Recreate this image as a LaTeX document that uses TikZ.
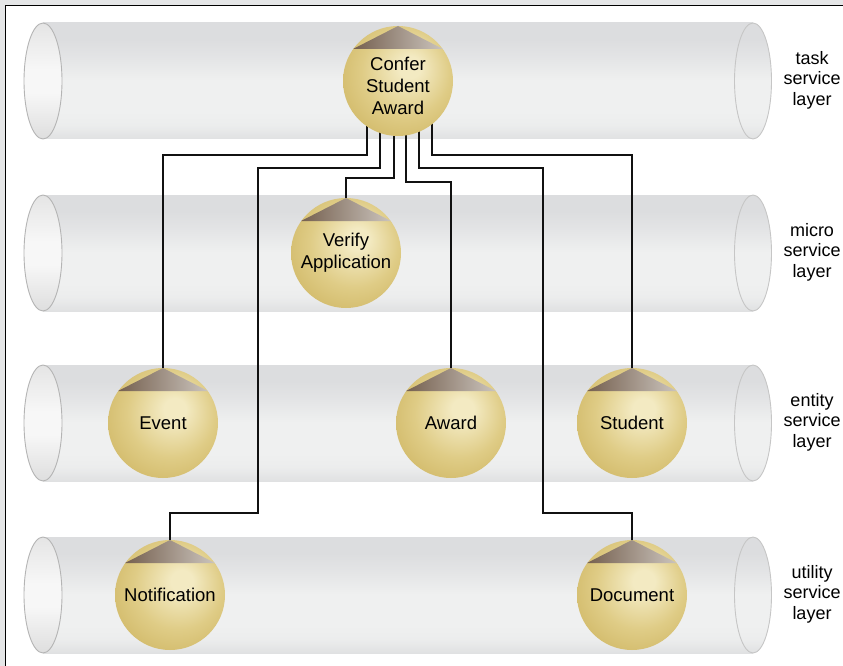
\documentclass[tikz,border=0pt]{standalone}
\usepackage{fontspec}
\setmainfont{Liberation Sans}
\usetikzlibrary{calc}
\definecolor{bgGray}{HTML}{E5E6E7}
\definecolor{cylTop}{HTML}{DCDDDF}
\definecolor{cylMid}{HTML}{EFF0F0}
\definecolor{cylBot}{HTML}{E0E1E2}
\definecolor{capA}{HTML}{DEDEDE}
\definecolor{capB}{HTML}{F7F7F7}
\definecolor{capLine}{HTML}{B4B4B4}
\definecolor{endLine}{HTML}{C6C6C6}
\definecolor{goldA}{HTML}{F3EAC2}
\definecolor{goldB}{HTML}{DFCC86}
\definecolor{goldC}{HTML}{D1B968}
\definecolor{triA}{HTML}{75604F}
\definecolor{triB}{HTML}{CBC4BD}
\definecolor{lineCol}{HTML}{111111}
\pgfdeclareverticalshading{cylshade}{100bp}{color(0bp)=(cylBot); color(25bp)=(cylBot); color(31bp)=(cylMid!80!cylBot); color(37bp)=(cylMid); color(50bp)=(cylMid); color(60bp)=(cylTop!60!cylMid); color(68bp)=(cylTop); color(100bp)=(cylTop)}
\pgfdeclareverticalshading{capshade}{100bp}{color(0bp)=(capA); color(25bp)=(capA); color(45bp)=(capB); color(55bp)=(capB); color(75bp)=(capA!80!white); color(100bp)=(capA!80!white)}
\pgfdeclareradialshading{goldball}{\pgfpoint{6bp}{7bp}}{color(0bp)=(goldA); color(5bp)=(goldA); color(20bp)=(goldB); color(32bp)=(goldC); color(50bp)=(goldC)}
\pgfdeclarelayer{bg}
\pgfdeclarelayer{cyl}
\pgfdeclarelayer{lines}
\pgfsetlayers{bg,cyl,lines,main}
\tikzset{
  sphere/.style={circle, minimum size=110pt, inner sep=0pt,
    path picture={
      \shade[shading=goldball] (path picture bounding box.south west) rectangle (path picture bounding box.north east);
      \shade[left color=triA, right color=triB]
        (path picture bounding box.north)
        -- ($(path picture bounding box.center)+(-45,-32)$)
        -- ($(path picture bounding box.center)+(45,-32)$) -- cycle;
    }},
  ballText/.style={font=\fontsize{18.5}{22}\selectfont, align=center, inner sep=0pt},
  layerText/.style={font=\fontsize{18}{20.5}\selectfont, align=center, inner sep=0pt},
  conn/.style={draw=lineCol, line width=1.3pt},
}
\newcommand{\servicelayer}[2]{%
  \shade[shading=cylshade] (43,#1-58) rectangle (753,#1+58);
  \shade[shading=cylshade] (753,#1) ellipse [x radius=18.5, y radius=58];
  \draw[endLine, line width=0.9pt] (753,#1) ellipse [x radius=18.5, y radius=58];
  \shade[shading=capshade] (43,#1) ellipse [x radius=19, y radius=58];
  \draw[capLine, line width=0.9pt] (43,#1) ellipse [x radius=19, y radius=58];
  \coordinate (#2) at (43,#1);
}
\begin{document}
\begin{tikzpicture}[x=1pt,y=-1pt]
\useasboundingbox (0,0) rectangle (843,666);
\clip (0,0) rectangle (843,666);
\begin{pgfonlayer}{bg}
\fill[bgGray] (0,0) rectangle (843,666);
\draw[fill=white, draw=black, line width=1.2pt] (5.5,5.5) rectangle (870,700);
\end{pgfonlayer}

\begin{pgfonlayer}{cyl}
\servicelayer{81}{taskL}
\servicelayer{253}{microL}
\servicelayer{423}{entityL}
\servicelayer{595}{utilityL}
\end{pgfonlayer}

% spheres
\node[sphere] (confer) at (398,81) {};
\node[sphere] (verify) at (346,253) {};
\node[sphere] (event) at (163,423) {};
\node[sphere] (award) at (451,423) {};
\node[sphere] (student) at (632,423) {};
\node[sphere] (notif) at (170,595) {};
\node[sphere] (document) at (632,595) {};

% texts
\node[ballText] (conferT) at ($(confer.center)+(0,5)$) {Confer\\Student\\Award};
\node[ballText] (verifyT) at (verify.center) {Verify\\Application};
\node[ballText] (eventT) at (event.center) {Event};
\node[ballText] (awardT) at (award.center) {Award};
\node[ballText] (studentT) at (student.center) {Student};
\node[ballText] (notifT) at (notif.center) {Notification};
\node[ballText] (documentT) at (document.center) {Document};

\node[layerText] (taskLbl) at (812,80) {task\\service\\layer};
\node[layerText] (microLbl) at (812,252) {micro\\service\\layer};
\node[layerText] (entityLbl) at (812,422) {entity\\service\\layer};
\node[layerText] (utilityLbl) at (812,594) {utility\\service\\layer};

% connectors
\begin{pgfonlayer}{lines}
\draw[conn] ([xshift=-31pt]confer.center) |- (163,155) -- (event.north);
\draw[conn] ([xshift=-18pt]confer.center) |- (258,168) |- (170,513) -- (notif.north);
\draw[conn] ([xshift=-4pt]confer.center) |- (346,178) -- (verify.north);
\draw[conn] ([xshift=8pt]confer.center) |- (451,182) -- (award.north);
\draw[conn] ([xshift=21pt]confer.center) |- (543,168) |- (632,513) -- (document.north);
\draw[conn] ([xshift=34pt]confer.center) |- (632,155) -- (student.north);
\end{pgfonlayer}
\end{tikzpicture}
\end{document}
